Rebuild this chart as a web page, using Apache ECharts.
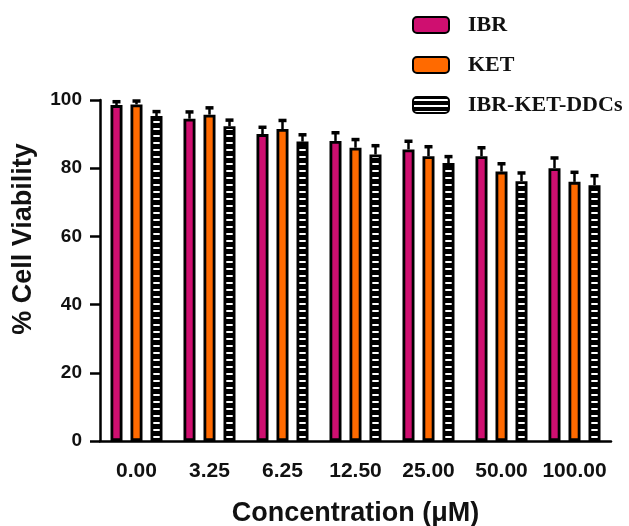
<!DOCTYPE html>
<html>
<head>
<meta charset="utf-8">
<script src="https://cdn.jsdelivr.net/npm/echarts@6/dist/echarts.min.js"></script>
<style>
  html, body { margin: 0; padding: 0; background: #fff; }
  #main { width: 629px; height: 526px; }
</style>
</head>
<body>
<div id="main"></div>
<script>
// data
var categories = ['0.00', '3.25', '6.25', '12.50', '25.00', '50.00', '100.00'];
var seriesNames = ['IBR', 'KET', 'IBR-KET-DDCs'];
var ibr = [98.5, 94.5, 90.0, 88.0, 85.5, 83.5, 80.0];
var ket = [98.7, 95.7, 91.5, 86.0, 83.5, 79.0, 76.0];
var ddcs = [95.3, 92.3, 87.8, 84.0, 81.5, 76.2, 75.0];
var ibrErr = [1.0, 2.0, 2.0, 2.4, 2.4, 2.5, 3.0];
var ketErr = [1.0, 2.0, 2.5, 2.4, 2.8, 2.3, 2.8];
var ddcsErr = [1.3, 1.8, 2.0, 2.6, 1.9, 2.4, 2.8];
var yTicks = [0, 20, 40, 60, 80, 100];

var font = '"Liberation Sans", Arial, sans-serif';
var BAR_W = 12, BAR_GAP = '66.67%';

// striped fill: black with short white dashes (pattern width = one category)
function stripePattern() {
  var c = document.createElement('canvas');
  c.width = 73; c.height = 7;
  var g = c.getContext('2d');
  g.fillStyle = '#000'; g.fillRect(0, 0, 73, 7);
  g.fillStyle = '#fff'; g.fillRect(6.5, 2, 8, 2);
  return c;
}
function legendStripe() {
  var c = document.createElement('canvas');
  c.width = 8; c.height = 6;
  var g = c.getContext('2d');
  g.fillStyle = '#000'; g.fillRect(0, 0, 8, 6);
  g.fillStyle = '#fff'; g.fillRect(0, 2, 8, 2);
  return c;
}

var values = [ibr, ket, ddcs];
var errs = [ibrErr, ketErr, ddcsErr];
var errData = [];
values.forEach(function (arr, s) {
  arr.forEach(function (v, i) { errData.push([i, v, errs[s][i], s]); });
});

var chart = echarts.init(document.getElementById('main'));
chart.setOption({
  animation: false,
  grid: { left: 100, right: 18, top: 100, bottom: 85, containLabel: false, outerBoundsMode: 'none' },
  legend: {
    orient: 'vertical', left: 407, top: 9,
    itemWidth: 36, itemHeight: 16, itemGap: 18,
    icon: 'roundRect',
    textStyle: { fontFamily: '"Liberation Serif", "Times New Roman", serif', fontWeight: 'bold', fontSize: 22, color: '#111', padding: [0, 0, 0, 14] },
    data: [
      { name: 'IBR' },
      { name: 'KET' },
      { name: 'IBR-KET-DDCs', itemStyle: { color: { image: legendStripe(), repeat: 'repeat' } } }
    ]
  },
  xAxis: {
    type: 'category', data: categories,
    name: 'Concentration (\u03bcM)', nameLocation: 'middle', nameGap: 59,
    nameTextStyle: { fontFamily: font, fontWeight: 'bold', fontSize: 27, color: '#111' },
    axisLine: { lineStyle: { color: '#000', width: 2.5 } },
    axisTick: { alignWithLabel: true, length: 9, lineStyle: { color: '#000', width: 2.5 } },
    axisLabel: { interval: 0, hideOverlap: false, margin: 20, fontFamily: font, fontWeight: 'bold', fontSize: 21, color: '#111' }
  },
  yAxis: {
    type: 'value', min: yTicks[0], max: yTicks[yTicks.length - 1], interval: 20,
    splitLine: { show: false },
    axisLine: { show: true, lineStyle: { color: '#000', width: 2.5 } },
    axisTick: { show: true, length: 10, lineStyle: { color: '#000', width: 2.5 } },
    axisLabel: { margin: 18, fontFamily: font, fontWeight: 'bold', fontSize: 19, color: '#111' }
  },
  graphic: [{
    type: 'text', x: 24, y: 239, rotation: Math.PI / 2,
    style: { text: '% Cell Viability', font: 'bold 27px ' + font, fill: '#111', align: 'center', verticalAlign: 'middle' }
  }],
  series: [
    { name: 'IBR', type: 'bar', data: ibr, barWidth: BAR_W, barGap: BAR_GAP,
      itemStyle: { color: '#cf0f70', borderColor: '#000', borderWidth: 2.8 } },
    { name: 'KET', type: 'bar', data: ket, barWidth: BAR_W, barGap: BAR_GAP,
      itemStyle: { color: '#ff6a00', borderColor: '#000', borderWidth: 2.8 } },
    { name: 'IBR-KET-DDCs', type: 'bar', data: ddcs, barWidth: BAR_W, barGap: BAR_GAP,
      itemStyle: { color: { image: stripePattern(), repeat: 'repeat' }, borderColor: '#000', borderWidth: 2.8 } },
    {
      type: 'custom', data: errData, z: 5, silent: true,
      encode: { x: 0, y: 1 },
      renderItem: function (params, api) {
        var cat = api.value(0), s = api.value(3);
        var layout = api.barLayout({ count: 3, barWidth: BAR_W, barGap: BAR_GAP });
        var base = api.coord([cat, api.value(1)]);
        var top = api.coord([cat, api.value(1) + api.value(2)]);
        var x = base[0] + layout[s].offsetCenter;
        return {
          type: 'group',
          children: [
            { type: 'line', shape: { x1: x, y1: base[1], x2: x, y2: top[1] }, style: { stroke: '#000', lineWidth: 2.5 } },
            { type: 'line', shape: { x1: x - 4, y1: top[1], x2: x + 4, y2: top[1] }, style: { stroke: '#000', lineWidth: 3.5 } }
          ]
        };
      }
    }
  ]
});
</script>
</body>
</html>
